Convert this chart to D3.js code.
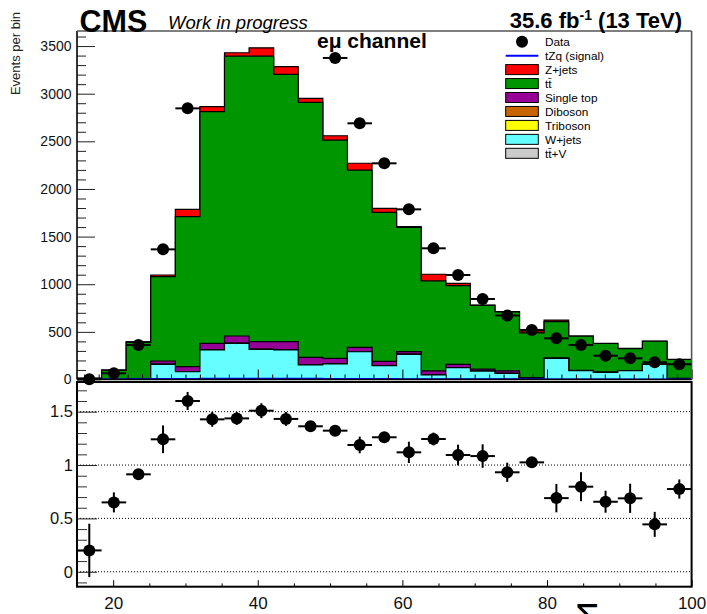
<!DOCTYPE html>
<html>
<head>
<meta charset="utf-8">
<script src="https://cdn.jsdelivr.net/npm/d3@7"></script>
<style>
  html, body { margin: 0; padding: 0; background: #fff; }
  svg { display: block; font-family: "Liberation Sans", Arial, Helvetica, sans-serif; }
</style>
</head>
<body>
<svg id="chart" width="707" height="614"></svg>
<script>
// ---- binning (25 bins from 15 to 100) ----
const binEdges = [15, 18.4, 21.8, 25.2, 28.6, 32, 35.4, 38.8, 42.2, 45.6, 49, 52.4, 55.8,
                  59.2, 62.6, 66, 69.4, 72.8, 76.2, 79.6, 83, 86.4, 89.8, 93.2, 96.6, 100];

// ---- observed events per bin ----
const dataCounts = [3, 65, 362, 1366, 2846, 4090, 4940, 5260, 4700, 4010, 3375, 2689, 2269,
                    1786, 1377, 1097, 845, 672, 520, 432, 362, 250, 222, 180, 160];

// ---- simulated backgrounds (stacked bottom to top) ----
const ttVYields      = [0, 0, 0.5, 1, 1.5, 2, 2.5, 2.5, 2, 2, 1.5, 1.5, 1, 1, 1, 0.8, 0.6, 0.5, 0.5, 0.4, 0.3, 0.3, 0.2, 0.2, 0.1];
const wjetsYields    = [0, 0, 0, 158, 80, 308, 377, 314, 308, 150, 161, 290, 144, 263, 46, 123, 88, 64, 14, 221, 92, 75, 92, 159, 10];
const tribosonYields = [0, 0, 0, 0.1, 0.1, 0.2, 0.2, 0.2, 0.2, 0.1, 0.1, 0.1, 0.1, 0.1, 0.1, 0.1, 0, 0, 0, 0, 0, 0, 0, 0, 0];
const dibosonYields  = [0, 0.5, 1, 2, 2, 3, 3, 3, 3, 2, 2, 2, 2, 1.5, 1.5, 1, 1, 1, 0.5, 0.5, 0.5, 0.5, 0.5, 0.3, 0.3];
const singleTopYields= [0, 0, 3, 33, 51, 67, 74, 77, 84, 79, 57, 44, 43, 27, 41, 34, 20, 26, 5, 3, 2, 2, 2, 2, 1.5];
const ttbarYields    = [12, 95, 386, 885, 1574, 2431, 2938, 2998, 2806, 2676, 2291, 1861, 1565, 1305, 945, 826, 668, 617, 470, 382, 360, 300, 230, 240, 198];
const zjetsYields    = [3, 4.5, 7, 18, 77, 53, 35, 87, 80, 42, 46, 71, 42, 7, 70, 25, 4, 3, 20, 17, 2, 2, 2, 2, 2];

// ---- signal ----
const tzqYields = [0.5, 1, 2, 4, 6, 8, 9, 9, 8, 7, 6, 5, 4, 3, 3, 2, 2, 1.5, 1.5, 1, 1, 1, 0.5, 0.5, 0.5];

// ---- data / simulation ratio ----
const ratioValues = [0.2, 0.65, 0.913, 1.241, 1.6, 1.428, 1.437, 1.509, 1.432, 1.363, 1.322, 1.188, 1.26,
                     1.119, 1.244, 1.094, 1.084, 0.932, 1.025, 0.69, 0.797, 0.656, 0.688, 0.444, 0.775];
const ratioErrors = [0.25, 0.094, 0.03, 0.13, 0.085, 0.07, 0.06, 0.07, 0.065, 0.04, 0.04, 0.078, 0.045,
                     0.1, 0.06, 0.097, 0.11, 0.09, 0.04, 0.133, 0.136, 0.103, 0.137, 0.117, 0.09];

// ---- axis ticks ----
const yTicksMain  = [0, 500, 1000, 1500, 2000, 2500, 3000, 3500];
const yTicksRatio = [0, 0.5, 1, 1.5];
const xTicksMajor = [20, 40, 60, 80, 100];

// ---- legend ----
const legendLabels = ["Data", "tZq (signal)", "Z+jets", "tt\u0304", "Single top", "Diboson", "Triboson", "W+jets", "tt\u0304+V"];
const legendColors = [null, "#0000ff", "#ff0000", "#009600", "#960096", "#c86400", "#ffff00", "#66ffff", "#cccccc"];

// ===================== drawing =====================
const svg = d3.select("#chart");
const frame = { left: 77, right: 691.6 };
const mainPad  = { top: 31, bottom: 379.5 };
const ratioPad = { top: 382, bottom: 586.7 };
const fontFamily = "'Liberation Sans', Arial, sans-serif";

const x = d3.scaleLinear().domain([binEdges[0], binEdges[binEdges.length - 1]]).range([frame.left, frame.right]);
const y = d3.scaleLinear().domain([0, 3658]).range([mainPad.bottom, mainPad.top]);
const yr = d3.scaleLinear().domain([-0.14, 1.778]).range([ratioPad.bottom, ratioPad.top]);

const nBins = binEdges.length - 1;
const stackKeys = ["ttV", "wjets", "triboson", "diboson", "singletop", "ttbar", "zjets"];
const stackColors = { ttV: "#cccccc", wjets: "#66ffff", triboson: "#ffff00", diboson: "#c86400",
                      singletop: "#960096", ttbar: "#009600", zjets: "#ff0000" };
const rows = d3.range(nBins).map(i => ({
  ttV: ttVYields[i], wjets: wjetsYields[i], triboson: tribosonYields[i], diboson: dibosonYields[i],
  singletop: singleTopYields[i], ttbar: ttbarYields[i], zjets: zjetsYields[i]
}));
const stacked = d3.stack().keys(stackKeys)(rows);

// step outline points for a histogram given its per-bin heights
function stepPoints(vals) {
  const pts = [];
  vals.forEach((v, i) => { pts.push([binEdges[i], v]); pts.push([binEdges[i + 1], v]); });
  return pts;
}

svg.append("defs").append("clipPath").attr("id", "mainClip")
  .append("rect").attr("x", frame.left).attr("y", mainPad.top)
  .attr("width", frame.right - frame.left).attr("height", mainPad.bottom - mainPad.top);

const main = svg.append("g").attr("clip-path", "url(#mainClip)");

const area = d3.area().x(p => x(p[0])).y0(y(0)).y1(p => y(p[1]));
const line = d3.line().x(p => x(p[0])).y(p => y(p[1]));

// cumulative histograms, largest first so smaller ones overlay
for (let k = stacked.length - 1; k >= 0; k--) {
  const layer = stacked[k];
  const tops = layer.map(d => d[1]);
  const pts = stepPoints(tops);
  main.append("path").attr("d", area(pts)).attr("fill", stackColors[layer.key]).attr("stroke", "none");
  const outline = [[binEdges[0], 0], ...pts, [binEdges[nBins], 0]];
  main.append("path").attr("d", line(outline)).attr("fill", "none")
    .attr("stroke", "#000").attr("stroke-width", 1.2);
}

// upper panel x axis line
svg.append("line").attr("x1", frame.left).attr("x2", frame.right)
  .attr("y1", mainPad.bottom).attr("y2", mainPad.bottom).attr("stroke", "#000").attr("stroke-width", 1.5);

// signal histogram line
main.append("path").attr("d", line([[binEdges[0], 0], ...stepPoints(tzqYields), [binEdges[nBins], 0]]))
  .attr("fill", "none").attr("stroke", "#0000ff").attr("stroke-width", 2);

// upper panel x ticks (pointing up, no labels)
const xMinorMain = d3.range(16, 100.01, 2).filter(v => !xTicksMajor.includes(v));
svg.append("g").attr("transform", `translate(0,${mainPad.bottom})`)
  .call(d3.axisTop(x).tickValues(xTicksMajor).tickSize(10).tickFormat(""))
  .call(g => g.select(".domain").remove());
svg.append("g").attr("transform", `translate(0,${mainPad.bottom})`)
  .call(d3.axisTop(x).tickValues(xMinorMain).tickSize(5).tickFormat(""))
  .call(g => g.select(".domain").remove());

// upper y axis
const yMinorMain = d3.range(0, 3658, 100).filter(v => v % 500 !== 0);
svg.append("g").attr("transform", `translate(${frame.left},0)`)
  .call(d3.axisLeft(y).tickValues(yMinorMain).tickSize(-9).tickFormat(""))
  .call(g => g.select(".domain").remove())
  .call(g => g.selectAll("line").attr("stroke", "#222"));
svg.append("g").attr("transform", `translate(${frame.left},0)`)
  .call(d3.axisLeft(y).tickValues(yTicksMain).tickSize(-18).tickPadding(5.5).tickFormat(d3.format("d")))
  .call(g => g.select(".domain").remove())
  .call(g => g.selectAll("line").attr("stroke", "#222"))
  .call(g => g.selectAll("text").attr("font-size", 14).attr("fill", "#111").attr("font-family", fontFamily));

// upper frame
svg.append("line").attr("x1", frame.left).attr("x2", frame.left).attr("y1", mainPad.top).attr("y2", mainPad.bottom)
  .attr("stroke", "#000").attr("stroke-width", 1.6);
svg.append("line").attr("x1", frame.left).attr("x2", frame.right).attr("y1", mainPad.top).attr("y2", mainPad.top)
  .attr("stroke", "#555").attr("stroke-width", 1.4);
svg.append("line").attr("x1", frame.right).attr("x2", frame.right).attr("y1", mainPad.top).attr("y2", mainPad.bottom)
  .attr("stroke", "#555").attr("stroke-width", 1.6);

// data points in the upper panel
const dataG = svg.append("g");
dataCounts.forEach((n, i) => {
  if (n > y.domain()[1]) return;
  const cx = x((binEdges[i] + binEdges[i + 1]) / 2);
  dataG.append("line").attr("x1", x(binEdges[i])).attr("x2", x(binEdges[i + 1]))
    .attr("y1", y(n)).attr("y2", y(n)).attr("stroke", "#000").attr("stroke-width", 2);
  dataG.append("circle").attr("cx", cx).attr("cy", y(n)).attr("r", 6).attr("fill", "#000");
});

// ---- ratio panel ----
const gridG = svg.append("g");
yTicksRatio.forEach(v => {
  gridG.append("line").attr("x1", frame.left).attr("x2", frame.right)
    .attr("y1", yr(v)).attr("y2", yr(v))
    .attr("stroke", "#000").attr("stroke-width", 1).attr("stroke-dasharray", "1,2");
});

const yMinorRatio = d3.range(-0.1, 1.78, 0.1).map(v => Math.round(v * 10) / 10)
  .filter(v => !yTicksRatio.includes(v));
svg.append("g").attr("transform", `translate(${frame.left},0)`)
  .call(d3.axisLeft(yr).tickValues(yMinorRatio).tickSize(-10).tickFormat(""))
  .call(g => g.select(".domain").remove())
  .call(g => g.selectAll("line").attr("stroke", "#333"));
svg.append("g").attr("transform", `translate(${frame.left},0)`)
  .call(d3.axisLeft(yr).tickValues(yTicksRatio).tickSize(-20).tickPadding(4).tickFormat(d3.format("")))
  .call(g => g.select(".domain").remove())
  .call(g => g.selectAll("line").attr("stroke", "#222"))
  .call(g => g.selectAll("text").attr("font-size", 16.5).attr("fill", "#111").attr("font-family", fontFamily));

const xMinorRatio = d3.range(20, 100, 5).filter(v => !xTicksMajor.includes(v));
svg.append("g").attr("transform", `translate(0,${ratioPad.bottom})`)
  .call(d3.axisBottom(x).tickValues(xMinorRatio).tickSize(-3.3).tickFormat(""))
  .call(g => g.select(".domain").remove());
svg.append("g").attr("transform", `translate(0,${ratioPad.bottom})`)
  .call(d3.axisBottom(x).tickValues(xTicksMajor).tickSize(-6.5).tickPadding(10))
  .call(g => g.select(".domain").remove())
  .call(g => g.selectAll("text").attr("font-size", 17).attr("fill", "#111").attr("font-family", fontFamily));

svg.append("rect").attr("x", frame.left).attr("y", ratioPad.top)
  .attr("width", frame.right - frame.left).attr("height", ratioPad.bottom - ratioPad.top)
  .attr("fill", "none").attr("stroke", "#000").attr("stroke-width", 2);

const ratioG = svg.append("g");
ratioValues.forEach((r, i) => {
  const cx = x((binEdges[i] + binEdges[i + 1]) / 2);
  const e = ratioErrors[i];
  ratioG.append("line").attr("x1", cx).attr("x2", cx)
    .attr("y1", yr(r - e)).attr("y2", yr(r + e)).attr("stroke", "#000").attr("stroke-width", 2);
  ratioG.append("line").attr("x1", x(binEdges[i])).attr("x2", x(binEdges[i + 1]))
    .attr("y1", yr(r)).attr("y2", yr(r)).attr("stroke", "#000").attr("stroke-width", 2);
  ratioG.append("circle").attr("cx", cx).attr("cy", yr(r)).attr("r", 6).attr("fill", "#000");
});

// ---- titles ----
svg.append("text").attr("x", 79.5).attr("y", 31.5).attr("font-size", 30.5).attr("font-weight", "bold")
  .attr("fill", "#000").text("CMS");
svg.append("text").attr("x", 168).attr("y", 29).attr("font-size", 18.5).attr("font-style", "italic")
  .attr("fill", "#000").text("Work in progress");

const lumi = svg.append("text").attr("x", 682).attr("y", 28.3).attr("text-anchor", "end")
  .attr("font-size", 22).attr("font-weight", "bold").attr("fill", "#000");
lumi.append("tspan").text("35.6 fb");
lumi.append("tspan").attr("font-size", 14).attr("dy", -8.5).text("-1");
lumi.append("tspan").attr("dy", 8.5).text(" (13 TeV)");

svg.append("text").attr("x", 317).attr("y", 48).attr("font-size", 21).attr("font-weight", "bold")
  .attr("fill", "#000").text("e\u03bc channel");

svg.append("text").attr("transform", "translate(20,12) rotate(-90)").attr("text-anchor", "end")
  .attr("font-size", 13).attr("fill", "#222").text("Events per bin");

// x title (sum symbol, runs past the lower edge)
svg.append("text").attr("x", 575).attr("y", 632).attr("font-size", 40).attr("fill", "#000").text("\u03a3");

// ---- legend ----
const leg = svg.append("g");
const legX0 = 505.7, legW = 32.6, legText = 545, legY0 = 41.7, legDy = 13.95;
legendLabels.forEach((lab, k) => {
  const cy = legY0 + k * legDy;
  if (k === 0) {
    leg.append("circle").attr("cx", legX0 + legW / 2).attr("cy", cy).attr("r", 6).attr("fill", "#000");
  } else if (k === 1) {
    leg.append("line").attr("x1", legX0).attr("x2", legX0 + legW).attr("y1", cy).attr("y2", cy)
      .attr("stroke", legendColors[k]).attr("stroke-width", 2);
  } else {
    leg.append("rect").attr("x", legX0).attr("y", cy - 5).attr("width", legW).attr("height", 10)
      .attr("fill", legendColors[k]).attr("stroke", "#000").attr("stroke-width", 1);
  }
  leg.append("text").attr("x", legText).attr("y", cy).attr("dy", "0.36em")
    .attr("font-size", 11.8).attr("fill", "#000").text(lab);
});
</script>
</body>
</html>
